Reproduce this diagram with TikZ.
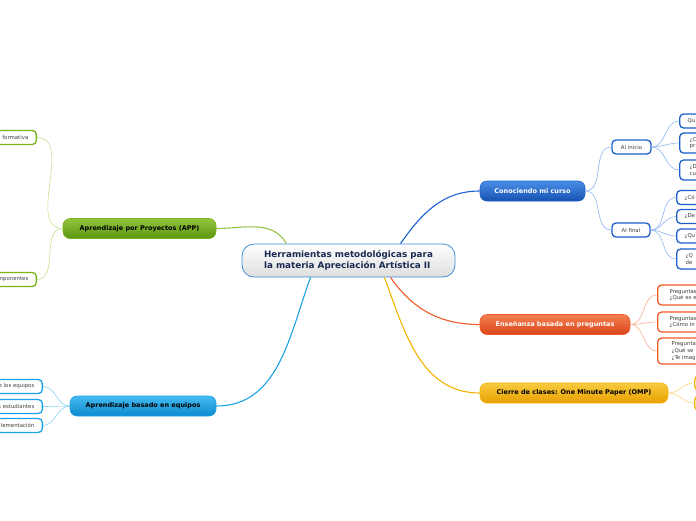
\documentclass[tikz,border=0pt]{standalone}
\usepackage{fontspec}
\setmainfont{DejaVu Sans}
\usetikzlibrary{calc}
\definecolor{rootedge}{HTML}{3D8FDB}
\definecolor{rootink}{HTML}{1B2A55}
\definecolor{bluetop}{HTML}{4A8EE6}
\definecolor{bluebot}{HTML}{1552B2}
\definecolor{blueedge}{HTML}{1C5FC8}
\definecolor{blueline}{HTML}{1C62D6}
\definecolor{bluetwig}{HTML}{8DB6F2}
\definecolor{redtop}{HTML}{F58052}
\definecolor{redbot}{HTML}{D8431A}
\definecolor{rededge}{HTML}{F05A28}
\definecolor{redtwig}{HTML}{F8AE92}
\definecolor{ylwtop}{HTML}{F8CB40}
\definecolor{ylwbot}{HTML}{E8A000}
\definecolor{ylwedge}{HTML}{F2B200}
\definecolor{ylwtwig}{HTML}{F8D680}
\definecolor{grntop}{HTML}{92C53C}
\definecolor{grnbot}{HTML}{5C9610}
\definecolor{grnedge}{HTML}{7AB317}
\definecolor{grntwig}{HTML}{C6E28E}
\definecolor{cyantop}{HTML}{45BBF0}
\definecolor{cyanbot}{HTML}{0C8AD0}
\definecolor{cyanedge}{HTML}{1AA3E6}
\definecolor{cyantwig}{HTML}{8AD3F2}
\tikzset{root/.style={draw=rootedge,line width=.8pt,rounded corners=12pt,top color=white,
           bottom color=black!13,text=rootink,font=\bfseries\fontsize{8.8}{10.5}\selectfont,
           align=left,minimum width=213pt,minimum height=33pt,inner sep=0pt},
         topic/.style={line width=.6pt,rounded corners=7pt,font=\bfseries\fontsize{6.5}{7}\selectfont,
           minimum height=20pt,inner sep=0pt},
         leaf/.style={fill=white,line width=1.3pt,rounded corners=4pt,text=black!75,
           font=\fontsize{5.4}{6.8}\selectfont,inner ysep=0pt,minimum height=14pt},
         link/.style={line width=1.1pt},
         twig/.style={line width=.6pt}}
\begin{document}
\begin{tikzpicture}[x=1pt,y=-1pt]
  \useasboundingbox (0,0) rectangle (696,520);
  \clip (0,0) rectangle (696,520);
  \node[root] (root) at (348.5,260.5) {Herramientas metodológicas para\\la materia Apreciación Artística II};
  % ramas
  \node[topic,top color=bluetop,bottom color=bluebot,draw=blueedge,text=white,minimum width=105pt]
    (curso) at (532.5,191) {Conociendo mi curso};
  \node[topic,top color=redtop,bottom color=redbot,draw=rededge,text=white,minimum width=150pt]
    (preg) at (555,324.5) {Enseñanza basada en preguntas};
  \node[topic,top color=ylwtop,bottom color=ylwbot,draw=ylwedge,minimum width=188pt]
    (cierre) at (574,393) {Cierre de clases: One Minute Paper (OMP)};
  \node[topic,top color=grntop,bottom color=grnbot,draw=grnedge,minimum width=153pt]
    (app) at (139.5,228.5) {Aprendizaje por Proyectos (APP)};
  \node[topic,top color=cyantop,bottom color=cyanbot,draw=cyanedge,minimum width=146pt]
    (equipos) at (143,406) {Aprendizaje basado en equipos};
  % conociendo mi curso
  \node[leaf,draw=blueedge,minimum width=39pt] (inicio) at (631.5,147) {Al inicio};
  \node[leaf,draw=blueedge,minimum width=38pt] (final) at (631,230) {Al final};
  \begin{scope}[every node/.style={leaf,draw=blueedge,anchor=west,text width=40pt,align=left,
      inner xsep=8pt}]
    \node (q1) at (679,121) {Qu};
    \node[minimum height=20pt,inner xsep=10pt] (q2) at (679,143) {¿C\\pr};
    \node[minimum height=20pt,inner xsep=10pt] (q3) at (679,170) {¿D\\cu};
    \node (f1) at (676,197.5) {¿Có};
    \node (f2) at (676,216.5) {¿De};
    \node (f3) at (676,236) {¿Qu};
    \node[minimum height=20pt,inner xsep=9pt] (f4) at (676,259) {¿Q\\de};
  \end{scope}
  % preguntas
  \begin{scope}[every node/.style={leaf,draw=rededge,anchor=west,text width=40pt,align=left,
      inner xsep=12pt,minimum height=20pt}]
    \node (p1) at (657,295) {Preguntas\\¿Qué es e};
    \node (p2) at (657,322) {Preguntas\\¿Cómo in};
    \node[minimum height=26pt,inner xsep=14pt] (p3) at (657,351) {Pregunta\\¿Qué se\\¿Te imag};
  \end{scope}
  % cierre
  \node[leaf,draw=ylwedge,anchor=west,minimum width=30pt] (o1) at (694,383) {};
  \node[leaf,draw=ylwedge,anchor=west,minimum width=30pt] (o2) at (694,403) {};
  % proyectos
  \begin{scope}[every node/.style={leaf,draw=grnedge,anchor=east,text width=50pt,align=right,
      inner xsep=8pt}]
    \node (a1) at (37,137.5) {formativa};
    \node (a2) at (37,279.5) {mponentes};
  \end{scope}
  % equipos
  \begin{scope}[every node/.style={leaf,draw=cyanedge,anchor=east,text width=50pt,align=right,
      inner xsep=8pt}]
    \node (e1) at (43,386.5) {e los equipos};
    \node (e2) at (43,406.5) {s estudiantes};
    \node (e3) at (43,425.5) {lementación};
  \end{scope}
  % conexiones
  \draw[link,blueline] ($(root.north)+(52,0)$) to[out=55,in=180] (curso.west);
  \draw[link,rededge] ($(root.south)+(42,0)$) to[out=-55,in=180] (preg.west);
  \draw[link,ylwedge] ($(root.south)+(36,0)$) to[out=-70,in=180] (cierre.west);
  \draw[link,grnedge!80] ($(root.north)+(-62,0)$) to[out=120,in=0] (app.east);
  \draw[link,cyanedge] ($(root.south)+(-38,0)$) to[out=-110,in=0] (equipos.east);
  \foreach \n in {inicio,final} \draw[twig,bluetwig] (curso.east) to[out=0,in=180] (\n.west);
  \foreach \n in {q1,q2,q3} \draw[twig,bluetwig] (inicio.east) to[out=0,in=180] (\n.west);
  \foreach \n in {f1,f2,f3,f4} \draw[twig,bluetwig] (final.east) to[out=0,in=180] (\n.west);
  \foreach \n in {p1,p2,p3} \draw[twig,redtwig] (preg.east) to[out=0,in=180] (\n.west);
  \foreach \n in {o1,o2} \draw[twig,ylwtwig] (cierre.east) to[out=0,in=180] (\n.west);
  \foreach \n in {a1,a2} \draw[twig,grntwig] (app.west) to[out=180,in=0] (\n.east);
  \foreach \n in {e1,e2,e3} \draw[twig,cyantwig] (equipos.west) to[out=180,in=0] (\n.east);
\end{tikzpicture}
\end{document}
